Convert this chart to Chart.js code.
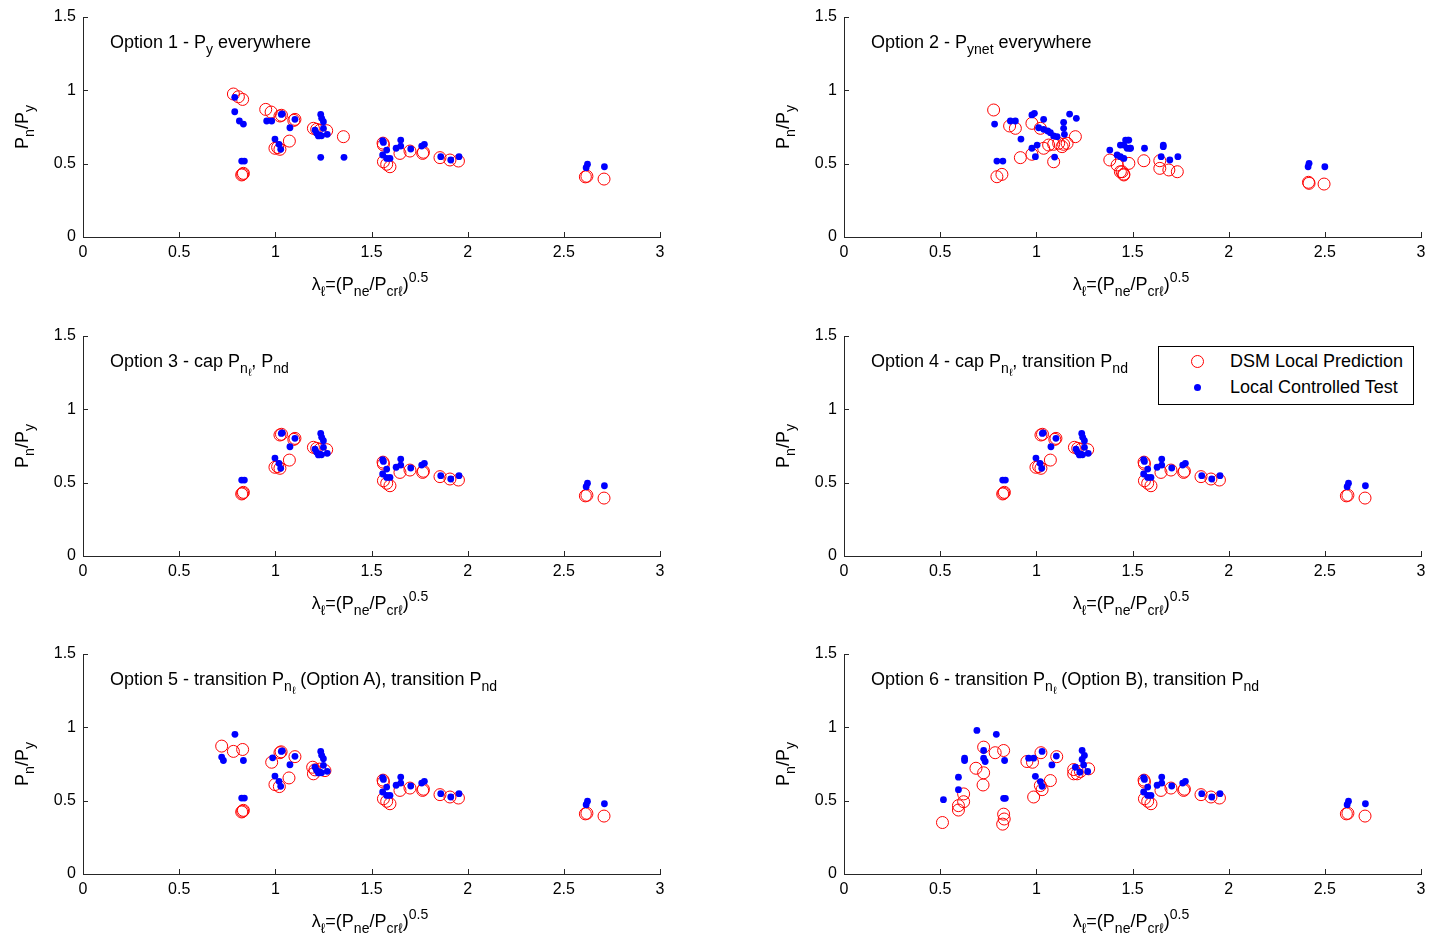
<!DOCTYPE html>
<html>
<head>
<meta charset="utf-8">
<script src="https://cdn.jsdelivr.net/npm/chart.js@4.4.1/dist/chart.umd.min.js"></script>
<style>
  body { margin:0; background:#fff; width:1434px; height:939px; overflow:hidden; position:relative;
         font-family:'Liberation Sans', Arial, Helvetica, sans-serif; }
  canvas { position:absolute; }
  .lbl { position:absolute; font-size:18px; line-height:18px; white-space:nowrap; color:#000; z-index:2; }
  sub { font-size:0.78em; vertical-align:-0.45em; line-height:0; }
  sup { font-size:0.78em; vertical-align:0.6em; line-height:0; }
  sub sub { font-size:0.75em; vertical-align:-0.25em; }
  .xt { transform:translateX(-50%); }
  .yt { transform:translate(-50%,-50%) rotate(-90deg); }
  .legend { position:absolute; left:1158px; top:346px; width:254px; height:57px; border:1px solid #000;
            background:#fff; z-index:3; font-size:18px; }
  .legend .row { position:absolute; left:0; height:20px; line-height:20px; white-space:nowrap; }
  .legend .mk { position:absolute; box-sizing:border-box; border-radius:50%; }
</style>
</head>
<body>
<canvas id="c1" width="717" height="313" style="left:0px;top:0px"></canvas>
<canvas id="c2" width="717" height="313" style="left:761px;top:0px"></canvas>
<canvas id="c3" width="717" height="313" style="left:0px;top:319px"></canvas>
<canvas id="c4" width="717" height="313" style="left:761px;top:319px"></canvas>
<canvas id="c5" width="717" height="313" style="left:0px;top:637px"></canvas>
<canvas id="c6" width="717" height="313" style="left:761px;top:637px"></canvas>

<div id="labels"></div>

<div class="legend">
  <span class="mk" style="left:32px;top:8px;width:13px;height:13px;border:1px solid #ff0000"></span>
  <div class="row" style="left:71px;top:4px">DSM Local Prediction</div>
  <span class="mk" style="left:35px;top:37px;width:7px;height:7px;background:#0000ff"></span>
  <div class="row" style="left:71px;top:30px">Local Controlled Test</div>
</div>

<script>
// shared right-hand cluster (lambda > 1.5), options 1,3,4,5,6
const rightPredX = [1.562, 1.560, 1.562, 1.579, 1.596, 1.648, 1.700, 1.766, 1.770, 1.856, 1.908, 1.952, 2.612, 2.620, 2.709];
const rightPredY = [0.627, 0.640, 0.513, 0.496, 0.479, 0.570, 0.586, 0.570, 0.578, 0.541, 0.525, 0.518, 0.410, 0.414, 0.395];
const rightTestX = [1.558, 1.562, 1.579, 1.558, 1.579, 1.596, 1.628, 1.652, 1.652, 1.704, 1.761, 1.775, 1.860, 1.912, 1.955, 2.623, 2.616, 2.711];
const rightTestY = [0.657, 0.645, 0.593, 0.559, 0.536, 0.536, 0.605, 0.661, 0.620, 0.600, 0.620, 0.632, 0.548, 0.525, 0.548, 0.496, 0.473, 0.479];

// middle cluster (lambda 1 - 1.3), options 1,3,4
const midPredX = [1.024, 1.032, 1.102, 1.096, 0.998, 1.012, 1.024, 1.073, 1.198, 1.215, 1.232, 1.267];
const midPredY = [0.825, 0.830, 0.802, 0.795, 0.605, 0.610, 0.598, 0.654, 0.741, 0.734, 0.728, 0.725];
const midTestX = [1.031, 1.036, 1.102, 1.076, 0.998, 1.019, 1.028, 1.236, 1.241, 1.250, 1.206, 1.215, 1.224, 1.250, 1.270, 1.232, 1.240];
const midTestY = [0.836, 0.840, 0.802, 0.745, 0.668, 0.632, 0.598, 0.836, 0.809, 0.786, 0.729, 0.707, 0.689, 0.741, 0.700, 0.695, 0.690];

// low points near lambda 0.83
const lowPredX = [0.825, 0.834, 0.830];
const lowPredY = [0.423, 0.434, 0.428];
const lowTestX = [0.825, 0.839];
const lowTestY = [0.518, 0.518];

// option 1 extras
const opt1PredX = [0.782, 0.808, 0.830, 0.950, 0.978, 1.354];
const opt1PredY = [0.975, 0.956, 0.938, 0.870, 0.852, 0.684];
const opt1TestX = [0.789, 0.789, 0.813, 0.834, 0.955, 0.981, 1.236, 1.357];
const opt1TestY = [0.952, 0.854, 0.791, 0.770, 0.791, 0.791, 0.543, 0.543];

// option 2 (Pynet)
const opt2PredX = [0.778, 0.861, 0.891, 0.977, 1.021, 0.917, 0.977, 1.038, 1.064, 1.090, 1.116, 1.142, 1.134, 1.160, 1.203, 1.090, 0.795, 0.821,
                   1.382, 1.420, 1.437, 1.455, 1.481, 1.446, 1.455, 1.559, 1.642, 1.642, 1.689, 1.733, 2.415, 2.418, 2.496];
const opt2PredY = [0.866, 0.757, 0.741, 0.775, 0.741, 0.541, 0.564, 0.605, 0.627, 0.632, 0.639, 0.632, 0.616, 0.639, 0.684, 0.513, 0.411, 0.427,
                   0.525, 0.491, 0.445, 0.429, 0.502, 0.445, 0.423, 0.520, 0.520, 0.468, 0.457, 0.445, 0.373, 0.366, 0.361];
const opt2TestX = [0.783, 0.865, 0.891, 0.977, 0.990, 1.038, 0.920, 1.012, 1.038, 1.059, 1.073, 1.090, 1.108, 1.142, 1.142, 1.146, 1.173, 1.208,
                   0.977, 1.004, 0.995, 1.095, 0.795, 0.826, 1.382, 1.420, 1.437, 1.455, 1.437, 1.464, 1.481, 1.472, 1.490, 1.455, 1.476,
                   1.486, 1.5625, 1.660, 1.660, 1.649, 1.694, 1.736, 2.418, 2.413, 2.500];
const opt2TestY = [0.770, 0.791, 0.791, 0.832, 0.843, 0.802, 0.668, 0.745, 0.734, 0.723, 0.711, 0.689, 0.684, 0.782, 0.741, 0.700, 0.838, 0.809,
                   0.605, 0.627, 0.548, 0.545, 0.518, 0.518, 0.593, 0.559, 0.548, 0.536, 0.627, 0.661, 0.661, 0.605, 0.605, 0.627, 0.661,
                   0.605, 0.605, 0.627, 0.616, 0.548, 0.525, 0.548, 0.502, 0.479, 0.479];

// option 5 extras (own middle predictions)
const opt5PredX = [0.721, 0.782, 0.830, 0.981, 1.024, 1.030, 1.102, 0.998, 1.021, 1.071, 1.198, 1.206, 1.194, 1.258, 1.230];
const opt5PredY = [0.872, 0.836, 0.849, 0.762, 0.827, 0.833, 0.800, 0.610, 0.596, 0.655, 0.683, 0.710, 0.728, 0.705, 0.715];
const opt5TestX = [0.790, 0.721, 0.730, 0.834, 0.986];
const opt5TestY = [0.952, 0.797, 0.774, 0.774, 0.792];

// option 6 (lambda < 1.3)
const opt6PredX = [0.726, 0.786, 0.830, 0.686, 0.726, 0.723, 0.622, 0.622, 0.595, 0.595, 0.512, 0.830, 0.833, 0.825, 0.951, 0.986,
                   1.024, 1.106, 0.980, 1.073, 1.021, 1.030, 1.194, 1.212, 1.194, 1.229, 1.272];
const opt6PredY = [0.865, 0.827, 0.842, 0.721, 0.690, 0.607, 0.546, 0.493, 0.466, 0.436, 0.351, 0.408, 0.375, 0.340, 0.767, 0.525,
                   0.827, 0.800, 0.762, 0.637, 0.603, 0.575, 0.712, 0.683, 0.683, 0.699, 0.717];
const opt6TestX = [0.691, 0.792, 0.726, 0.627, 0.627, 0.726, 0.734, 0.835, 0.595, 0.595, 0.517, 0.830, 0.839, 0.960, 0.986,
                   1.030, 1.104, 1.081, 0.995, 1.021, 1.030, 1.238, 1.250, 1.238, 1.246, 1.203, 1.226, 1.267];
const opt6TestY = [0.979, 0.952, 0.842, 0.790, 0.774, 0.790, 0.767, 0.774, 0.660, 0.575, 0.507, 0.516, 0.516, 0.790, 0.790,
                   0.836, 0.804, 0.744, 0.666, 0.630, 0.598, 0.842, 0.808, 0.781, 0.744, 0.728, 0.694, 0.699];

const xTicks = [0, 0.5, 1, 1.5, 2, 2.5, 3];
const yTicks = [0, 0.5, 1, 1.5];

const titles = [
  'Option 1 - P<sub>y</sub> everywhere',
  'Option 2 - P<sub>ynet</sub> everywhere',
  'Option 3 - cap P<sub>n<sub>ℓ</sub></sub>, P<sub>nd</sub>',
  'Option 4 - cap P<sub>n<sub>ℓ</sub></sub>, transition P<sub>nd</sub>',
  'Option 5 - transition P<sub>n<sub>ℓ</sub></sub> (Option A), transition P<sub>nd</sub>',
  'Option 6 - transition P<sub>n<sub>ℓ</sub></sub> (Option B), transition P<sub>nd</sub>'
];
const xTitle = 'λ<sub>ℓ</sub>=(P<sub>ne</sub>/P<sub>crℓ</sub>)<sup>0.5</sup>';
const yTitle = 'P<sub>n</sub>/P<sub>y</sub>';

const axisColor = '#262626';
Chart.defaults.font.family = "'Liberation Sans', Arial, Helvetica, sans-serif";
Chart.defaults.font.size = 16;
Chart.defaults.color = '#000';

const pts = (xs, ys) => xs.map((v, i) => ({x: v, y: ys[i]}));
const cat = (...arrs) => [].concat(...arrs);

// small tick marks pointing into the axes, like the original
const inwardTicks = {
  id: 'inwardTicks',
  afterDraw(chart) {
    const {ctx, chartArea, scales: {x, y}} = chart;
    ctx.save();
    ctx.strokeStyle = axisColor;
    ctx.lineWidth = 1;
    ctx.beginPath();
    x.ticks.forEach(t => {
      const px = Math.round(x.getPixelForValue(t.value)) + 0.5;
      ctx.moveTo(px, chartArea.bottom);
      ctx.lineTo(px, chartArea.bottom - 5);
    });
    y.ticks.forEach(t => {
      const py = Math.round(y.getPixelForValue(t.value)) + 0.5;
      ctx.moveTo(chartArea.left, py);
      ctx.lineTo(chartArea.left + 5, py);
    });
    ctx.stroke();
    ctx.restore();
  }
};

function makeChart(id, predX, predY, testX, testY) {
  new Chart(document.getElementById(id), {
    type: 'scatter',
    data: {
      datasets: [
        {label: 'Local Controlled Test', data: pts(testX, testY), order: 0,
         pointRadius: 3.4, backgroundColor: '#0000ff', borderColor: '#0000ff', borderWidth: 0},
        {label: 'DSM Local Prediction', data: pts(predX, predY), order: 1,
         pointRadius: 6, backgroundColor: 'rgba(0,0,0,0)', borderColor: '#ff0000', borderWidth: 1}
      ]
    },
    options: {
      responsive: false,
      animation: false,
      events: [],
      layout: {padding: {top: 17, right: 57, left: 0, bottom: 0}},
      plugins: {legend: {display: false}, tooltip: {enabled: false}},
      scales: {
        x: {
          type: 'linear', min: 0, max: 3,
          afterBuildTicks: s => { s.ticks = xTicks.map(v => ({value: v})); },
          afterFit: s => { s.height = 76; },
          ticks: {padding: 6, callback: v => String(v), maxRotation: 0},
          grid: {drawOnChartArea: false, drawTicks: false},
          border: {color: axisColor, width: 1}
        },
        y: {
          type: 'linear', min: 0, max: 1.5,
          afterBuildTicks: s => { s.ticks = yTicks.map(v => ({value: v})); },
          afterFit: s => { s.width = 83; },
          ticks: {padding: 7, callback: v => String(v)},
          grid: {drawOnChartArea: false, drawTicks: false},
          border: {color: axisColor, width: 1}
        }
      }
    },
    plugins: [inwardTicks]
  });
}

makeChart('c1', cat(opt1PredX, midPredX, lowPredX, rightPredX), cat(opt1PredY, midPredY, lowPredY, rightPredY),
                cat(opt1TestX, midTestX, lowTestX, rightTestX), cat(opt1TestY, midTestY, lowTestY, rightTestY));
makeChart('c2', opt2PredX, opt2PredY, opt2TestX, opt2TestY);
makeChart('c3', cat(midPredX, lowPredX, rightPredX), cat(midPredY, lowPredY, rightPredY),
                cat(midTestX, lowTestX, rightTestX), cat(midTestY, lowTestY, rightTestY));
makeChart('c4', cat(midPredX, lowPredX, rightPredX), cat(midPredY, lowPredY, rightPredY),
                cat(midTestX, lowTestX, rightTestX), cat(midTestY, lowTestY, rightTestY));
makeChart('c5', cat(opt5PredX, lowPredX, rightPredX), cat(opt5PredY, lowPredY, rightPredY),
                cat(opt5TestX, midTestX, lowTestX, rightTestX), cat(opt5TestY, midTestY, lowTestY, rightTestY));
makeChart('c6', cat(opt6PredX, rightPredX), cat(opt6PredY, rightPredY),
                cat(opt6TestX, rightTestX), cat(opt6TestY, rightTestY));

// rich-text labels (sub/superscripts) as html
const colLeft = [0, 761];
const rowTop = [0, 319, 637];
const box = document.getElementById('labels');
function addLabel(html, cls, left, top) {
  const d = document.createElement('div');
  d.className = 'lbl ' + cls;
  d.style.left = left + 'px';
  d.style.top = top + 'px';
  d.innerHTML = html;
  box.appendChild(d);
}
titles.forEach((t, i) => {
  const c = i % 2, r = Math.floor(i / 2);
  addLabel(t, '', colLeft[c] + 110, rowTop[r] + 33);
  addLabel(xTitle, 'xt', colLeft[c] + 370, rowTop[r] + 275);
  addLabel(yTitle, 'yt', colLeft[c] + 22, rowTop[r] + 127);
});
</script>
</body>
</html>
